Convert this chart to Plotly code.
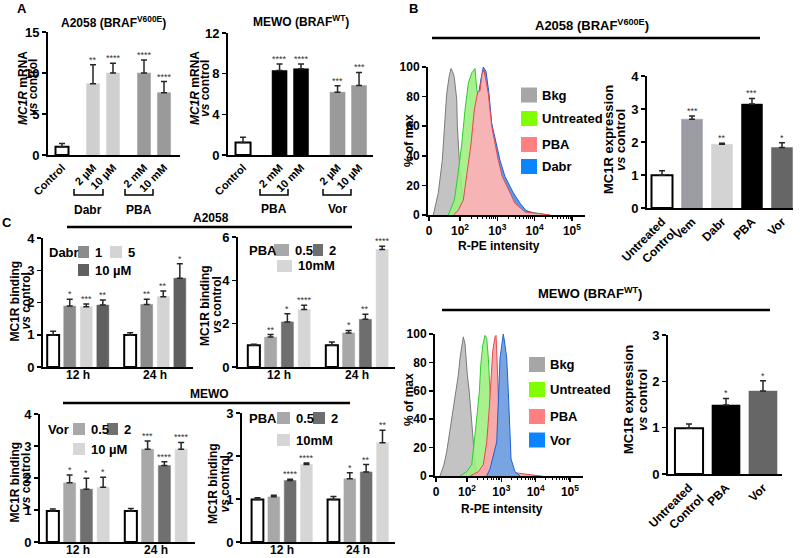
import plotly.graph_objects as go
import numpy as np

W, H = 800, 558
FONT = "Liberation Sans, Arial, sans-serif"

# ------------------------------------------------------------------ DATA
# Panel A - MC1R mRNA vs control
a1_labels = ["Control", "2 µM", "10 µM", "2 mM", "10 mM"]
a1_group = [0, 1, 1, 2, 2]
a1_vals = [1.0, 8.7, 10.0, 10.0, 7.6]
a1_errs = [0.4, 2.3, 1.2, 1.6, 1.35]
a1_stars = ["", "**", "****", "****", "****"]
a1_colors = ["white", "#cfcfcf", "#cfcfcf", "#9a9a9a", "#9a9a9a"]

a2_labels = ["Control", "2 mM", "10 mM", "2 µM", "10 µM"]
a2_group = [0, 1, 1, 2, 2]
a2_vals = [1.22, 8.32, 8.49, 6.18, 6.84]
a2_errs = [0.52, 0.63, 0.46, 0.63, 1.28]
a2_stars = ["", "****", "****", "***", "***"]
a2_colors = ["white", "black", "black", "#9a9a9a", "#9a9a9a"]

# Panel B - MC1R expression
b1_labels = ["Untreated<br>Control", "Vem", "Dabr", "PBA", "Vor"]
b1_vals = [0.99, 2.69, 1.93, 3.15, 1.83]
b1_errs = [0.14, 0.10, 0.03, 0.17, 0.15]
b1_stars = ["", "***", "**", "***", "*"]
b1_colors = ["white", "#9c9ca4", "#d3d3d3", "black", "#666666"]

b2_labels = ["Untreated<br>Control", "PBA", "Vor"]
b2_vals = [0.99, 1.49, 1.79]
b2_errs = [0.09, 0.14, 0.22]
b2_stars = ["", "*", "*"]
b2_colors = ["white", "black", "#666666"]

# Flow histograms (x in decades of R-PE intensity, y in % of max)
h1_bkg_x = [1.284, 1.418, 1.525, 1.579, 1.643, 1.705, 1.759, 1.799, 1.847, 1.912, 1.928, 1.981, 2.062, 2.180, 2.314]
h1_bkg_y = [0, 15, 37, 60, 82, 93, 99, 97, 93, 78, 60, 37, 15, 2, 0]
h1_unt_x = [1.686, 1.847, 1.938, 2.046, 2.134, 2.223, 2.314, 2.402, 2.448, 2.536, 2.670, 2.804, 2.938, 3.126, 3.340, 3.609, 3.877, 4.145, 4.36]
h1_unt_y = [0, 10, 26, 48, 71, 89, 96, 99, 85, 75, 55, 38, 25, 14, 7, 4, 2, 1, 0]
h1_dab_x = [1.866, 2.134, 2.322, 2.456, 2.563, 2.625, 2.697, 2.777, 2.850, 2.965, 3.072, 3.206, 3.429, 3.609, 3.769, 4.011, 4.413]
h1_dab_y = [0, 8, 40, 75, 92, 100, 97, 82, 62, 48, 37, 26, 15, 8, 3, 1, 0]
h1_pba_x = [1.820, 1.946, 2.088, 2.180, 2.295, 2.383, 2.475, 2.536, 2.590, 2.643, 2.724, 2.759, 2.850, 2.938, 3.027, 3.134, 3.340, 3.475, 3.743, 4.011, 4.413]
h1_pba_y = [0, 3, 10, 26, 48, 71, 83, 84, 95, 98, 88, 82, 60, 48, 37, 26, 15, 8, 2, 1, 0]

h2_bkg_x = [1.213, 1.329, 1.408, 1.525, 1.621, 1.679, 1.746, 1.796, 1.845, 1.892, 1.942, 1.971, 2.010, 2.067, 2.108, 2.137, 2.184, 2.213, 2.283, 2.379]
h2_bkg_y = [0, 8, 17, 36, 48, 59, 71, 83, 92, 98, 93, 83, 71, 59, 48, 36, 24, 12, 3, 0]
h2_unt_x = [1.796, 1.990, 2.137, 2.184, 2.262, 2.359, 2.400, 2.458, 2.525, 2.574, 2.621, 2.671, 2.720, 2.787, 2.866, 2.962, 3.5, 4.0, 4.2]
h2_unt_y = [0, 3, 8, 17, 36, 59, 78, 92, 99, 97, 83, 59, 36, 12, 2, 1, 1, 0.5, 0]
h2_pba_x = [2.087, 2.330, 2.475, 2.574, 2.650, 2.700, 2.749, 2.816, 2.845, 2.866, 2.895, 2.942, 3.012, 3.204, 3.5, 3.837, 4.128]
h2_pba_y = [0, 3, 8, 24, 48, 71, 88, 98, 99, 88, 71, 36, 12, 3, 2, 1, 0]
h2_vor_x = [2.574, 2.671, 2.866, 2.913, 2.942, 2.962, 3.012, 3.058, 3.108, 3.157, 3.204, 3.233, 3.283, 3.399, 3.545]
h2_vor_y = [0, 5, 24, 48, 71, 83, 92, 100, 92, 83, 59, 36, 12, 3, 0]

hist_ticktext = ["0", "10<sup>2</sup>", "10<sup>3</sup>", "10<sup>4</sup>", "10<sup>5</sup>"]

# Panel C - MC1R binding vs control (rows: series, cols: 12 h, 24 h)
c_times = ["12 h", "24 h"]
c1_series = ["Control", "1", "5", "10 µM"]
c1_vals = [[0.99, 0.99], [1.89, 1.94], [1.87, 2.18], [1.92, 2.75]]
c1_errs = [[0.12, 0.07], [0.21, 0.16], [0.08, 0.18], [0.16, 0.45]]
c1_stars = [["", ""], ["*", "**"], ["***", "**"], ["**", "*"]]
c1_colors = ["white", "#8c8c8c", "#d4d4d4", "#606060"]

c2_series = ["Control", "0.5", "2", "10mM"]
c2_vals = [[1.0, 1.0], [1.38, 1.57], [2.08, 2.2], [2.65, 5.42]]
c2_errs = [[0.05, 0.15], [0.12, 0.12], [0.38, 0.23], [0.2, 0.15]]
c2_stars = [["", ""], ["**", "*"], ["*", "**"], ["****", "****"]]
c2_colors = ["white", "#a8a8a8", "#6e6e6e", "#d6d6d6"]

c3_series = ["Control", "0.5", "2", "10 µM"]
c3_vals = [[0.97, 0.97], [1.85, 2.9], [1.65, 2.39], [1.71, 2.9]]
c3_errs = [[0.06, 0.08], [0.24, 0.26], [0.34, 0.12], [0.31, 0.21]]
c3_stars = [["", ""], ["*", "***"], ["*", "****"], ["*", "****"]]
c3_colors = ["white", "#a8a8a8", "#707070", "#d6d6d6"]

c4_series = ["Control", "0.5", "2", "10mM"]
c4_vals = [[0.99, 0.99], [1.05, 1.47], [1.43, 1.63], [1.8, 2.31]]
c4_errs = [[0.04, 0.07], [0.04, 0.14], [0.03, 0.17], [0.04, 0.29]]
c4_stars = [["", ""], ["", "*"], ["****", "**"], ["****", "**"]]
c4_colors = ["white", "#a8a8a8", "#6e6e6e", "#d6d6d6"]

# ------------------------------------------------------------------ HELPERS
def px(x):
    return x / W


def py(y):
    return 1 - y / H


fig = go.Figure()
annotations = []
shapes = []
layout_axes = {}


def txt(x, y, text, size=12, bold=True, angle=0, xanchor="center", yanchor="middle", color="black"):
    annotations.append(dict(x=px(x), y=py(y), xref="paper", yref="paper", text=text, showarrow=False,
                            textangle=angle, xanchor=xanchor, yanchor=yanchor,
                            font=dict(family=FONT, size=size, color=color,
                                      weight="bold" if bold else "normal")))


def vtitle(x1, x2, y, line1, line2, size=12):
    txt(x1, y, line1, size, angle=-90)
    txt(x2, y, line2, size, angle=-90)


def hline(x0, x1, y, w=2.0, color="black"):
    shapes.append(dict(type="line", xref="paper", yref="paper", x0=px(x0), x1=px(x1), y0=py(y), y1=py(y),
                       line=dict(color=color, width=w)))


def rect(x0, x1, y0, y1, color):
    shapes.append(dict(type="rect", xref="paper", yref="paper", x0=px(x0), x1=px(x1), y0=py(y1), y1=py(y0),
                       fillcolor=color, line=dict(width=0)))


def bracket(x0, x1, ytop, ybot):
    shapes.append(dict(type="path", xref="paper", yref="paper",
                       path=f"M {px(x0)},{py(ytop)} L {px(x0)},{py(ybot)} L {px(x1)},{py(ybot)} L {px(x1)},{py(ytop)}",
                       line=dict(color="black", width=1.5)))


def axes(i, xdom, ydom, xrange, yrange, ydtick, xtickvals=None, xticktext=None, xtickangle=0,
         xtickfont=12, ytickfont=12, xticks="", minor=None, xstandoff=0):
    xa = dict(domain=[px(xdom[0]), px(xdom[1])], range=xrange, anchor=f"y{i}", showline=True,
              linecolor="black", linewidth=2, showgrid=False, zeroline=False, ticks=xticks,
              ticklen=4, tickwidth=1.5, tickcolor="black", automargin=False,
              ticklabelstandoff=xstandoff,
              tickfont=dict(family=FONT, size=xtickfont, color="black", weight="bold"),
              tickangle=xtickangle, fixedrange=True)
    if xtickvals is not None:
        xa.update(tickmode="array", tickvals=xtickvals, ticktext=xticktext)
    if minor is not None:
        xa["minor"] = minor
    ya = dict(domain=[py(ydom[0]), py(ydom[1])], range=yrange, anchor=f"x{i}", showline=True,
              linecolor="black", linewidth=2, showgrid=False, zeroline=False, ticks="outside",
              ticklen=4, tickwidth=1.5, tickcolor="black", dtick=ydtick, tick0=0, automargin=False,
              tickfont=dict(family=FONT, size=ytickfont, color="black", weight="bold"), fixedrange=True)
    layout_axes[f"xaxis{i}"] = xa
    layout_axes[f"yaxis{i}"] = ya


def bars(i, xs, vals, errs, colors, stars, width, star_size=9):
    line_cols = ["black" if c == "white" else c for c in colors]
    line_w = [2 if c == "white" else 0.5 for c in colors]
    fig.add_trace(go.Bar(x=xs, y=vals, width=width, xaxis=f"x{i}", yaxis=f"y{i}",
                         marker=dict(color=colors, line=dict(color=line_cols, width=line_w)),
                         error_y=dict(type="data", array=errs, arrayminus=[0] * len(errs), symmetric=False,
                                      color="#262626", thickness=1.5, width=3),
                         showlegend=False, hoverinfo="skip"))
    for x, v, e, s in zip(xs, vals, errs, stars):
        if s:
            annotations.append(dict(x=x, y=v + e, xref=f"x{i}", yref=f"y{i}", text=s, showarrow=False,
                                    yanchor="bottom", yshift=-2, font=dict(family=FONT, size=star_size, color="#333")))


def grouped_positions(groups, gap):
    return [k + g * gap for k, g in enumerate(groups)]


def c_panel(i, series_vals, series_errs, series_stars, colors, slot=0.215, width=0.155):
    n = len(series_vals)
    for j in range(n):
        xs = [t + (j - (n - 1) / 2) * slot for t in range(len(c_times))]
        bars(i, xs, series_vals[j], series_errs[j], [colors[j]] * len(xs), series_stars[j], width)


def hist(i, x, y, line, fill):
    fig.add_trace(go.Scatter(x=x, y=y, mode="lines", fill="tozeroy", fillcolor=fill,
                             line=dict(color=line, width=1), xaxis=f"x{i}", yaxis=f"y{i}",
                             showlegend=False, hoverinfo="skip"))


# ------------------------------------------------------------------ PANEL A
a1_x = grouped_positions(a1_group, 0.55)
axes(1, (48, 180), (155, 32), [-0.7, 5.9], [0, 15], 5, a1_x, a1_labels, -45, xtickfont=11, ytickfont=13)
bars(1, a1_x, a1_vals, a1_errs, a1_colors, a1_stars, 0.65)

a2_x = grouped_positions(a2_group, 0.7)
axes(2, (228, 373), (155, 33), [-0.7, 6.05], [0, 12], 4, a2_x, a2_labels, -45, xtickfont=11, ytickfont=13)
bars(2, a2_x, a2_vals, a2_errs, a2_colors, a2_stars, 0.7)

txt(22, 9, "A", 13)
txt(114, 22, "A2058 (BRAF<sup>V600E</sup>)", 12)
txt(301, 21, "MEWO (BRAF<sup>WT</sup>)", 12)
vtitle(23, 33, 88, "<i>MC1R</i> mRNA", "<i>vs</i> control")
vtitle(195, 205, 88, "<i>MC1R</i> mRNA", "<i>vs</i> control")
bracket(74, 103, 189, 195)
bracket(125, 153, 189, 195)
txt(88, 210, "Dabr", 12)
txt(139, 210, "PBA", 12)
bracket(260, 288, 189, 195)
bracket(323, 351, 189, 195)
txt(274, 209, "PBA", 12)
txt(337, 209, "Vor", 12)

# ------------------------------------------------------------------ PANEL B
txt(413, 8, "B", 13)
txt(592, 25, "A2058 (BRAF<sup>V600E</sup>)", 13)
hline(432, 760, 38, 2.5)
txt(590, 293, "MEWO (BRAF<sup>WT</sup>)", 13)
hline(442, 770, 310, 2.5)

minor_ticks = dict(ticks="outside", ticklen=2, tickwidth=1, tickcolor="black", tickmode="array",
                   tickvals=[float(v) for v in (np.log10(np.arange(2, 10))[None, :] + np.arange(2, 5)[:, None]).ravel()])

axes(3, (428, 585), (215, 67), [1.142, 5.351], [0, 100], 20, [1.169, 2, 3, 4, 5], hist_ticktext, 0,
     xtickfont=12, ytickfont=12, xticks="outside", minor=minor_ticks)
hist(3, h1_bkg_x, h1_bkg_y, "#7a7a7a", "rgba(185,185,185,0.85)")
hist(3, h1_unt_x, h1_unt_y, "#2ecc2e", "rgba(160,240,130,0.9)")
hist(3, h1_dab_x, h1_dab_y, "#1f5fd6", "rgba(80,150,235,0.95)")
hist(3, h1_pba_x, h1_pba_y, "#e8474f", "rgba(247,180,180,1)")
txt(409, 141, "% of max", 12, angle=-90)
txt(499, 246, "R-PE intensity", 12)

axes(4, (435, 583), (476, 334), [1.067, 5.38], [0, 100], 20, [1.096, 2, 3, 4, 5], hist_ticktext, 0,
     xtickfont=12, ytickfont=12, xticks="outside", minor=minor_ticks)
hist(4, h2_bkg_x, h2_bkg_y, "#7a7a7a", "rgba(185,185,185,0.85)")
hist(4, h2_unt_x, h2_unt_y, "#2ecc2e", "rgba(160,240,130,0.9)")
hist(4, h2_pba_x, h2_pba_y, "#e8474f", "rgba(247,170,170,1)")
hist(4, h2_vor_x, h2_vor_y, "#1f5fd6", "rgba(120,165,225,1)")
txt(409, 400, "% of max", 12, angle=-90)
txt(502, 509, "R-PE intensity", 12)

# histogram legends
leg_cols = ["#a6a6a6", "#80ff00", "#ff8080", "#0a84ff"]
for lab, col, yc in zip(["Bkg", "Untreated", "PBA", "Dabr"], leg_cols, [95, 118.5, 144.5, 166.5]):
    rect(521, 537, yc - 7.5, yc + 7.5, col)
    txt(540, yc, lab, 13, xanchor="left")
for lab, col, yc in zip(["Bkg", "Untreated", "PBA", "Vor"], leg_cols, [364.5, 389.5, 416.5, 440]):
    rect(529, 545, yc - 7.5, yc + 7.5, col)
    txt(548, yc, lab, 13, xanchor="left")

b1_x = list(range(len(b1_labels)))
axes(5, (647, 793), (208, 76), [-0.5, 4.367], [0, 4], 1, b1_x, b1_labels, -45, xtickfont=12, ytickfont=13)
bars(5, b1_x, b1_vals, b1_errs, b1_colors, b1_stars, 0.7)
vtitle(609, 621, 140, "MC1R expression", "<i>vs</i> control", 13)

b2_x = list(range(len(b2_labels)))
axes(6, (668, 782), (474, 335), [-0.568, 2.514], [0, 3], 1, b2_x, b2_labels, -45, xtickfont=12, ytickfont=13)
bars(6, b2_x, b2_vals, b2_errs, b2_colors, b2_stars, 0.76)
vtitle(628, 642, 400, "MC1R expression", "<i>vs</i> control", 13)

# ------------------------------------------------------------------ PANEL C
txt(7, 222, "C", 13)
txt(211, 218, "A2058", 12)
hline(67, 352, 227, 2.5)
txt(209, 394, "MEWO", 12)
hline(63, 350, 403, 2.5)

tv = list(range(len(c_times)))
axes(7, (43, 193), (367, 238), [-0.4545, 1.4935], [0, 4], 1, tv, c_times, 0, xtickfont=12, ytickfont=13, xstandoff=-4)
c_panel(7, c1_vals, c1_errs, c1_stars, c1_colors)
vtitle(14.5, 25.5, 301, "MC1R binding", "<i>vs</i> control")

axes(8, (238, 395), (367, 237), [-0.5256, 1.487], [0, 6], 2, tv, c_times, 0, xtickfont=12, ytickfont=13, xstandoff=-4)
c_panel(8, c2_vals, c2_errs, c2_stars, c2_colors)
vtitle(205, 216.5, 305, "MC1R binding", "<i>vs</i> control")

axes(9, (40, 195), (542, 414), [-0.487, 1.5], [0, 4], 1, tv, c_times, 0, xtickfont=12, ytickfont=13, xstandoff=-4)
c_panel(9, c3_vals, c3_errs, c3_stars, c3_colors)
vtitle(14.5, 26, 482, "MC1R binding", "<i>vs</i> control")

axes(10, (242, 395), (542, 413), [-0.526, 1.487], [0, 3], 1, tv, c_times, 0, xtickfont=12, ytickfont=13, xstandoff=-4)
c_panel(10, c4_vals, c4_errs, c4_stars, c4_colors)
vtitle(213, 224.5, 484, "MC1R binding", "<i>vs</i> control")


# panel C legends
def c_legend(title, tx, ty, items):
    txt(tx, ty, title, 13, xanchor="left")
    for (x0, x1, y0, y1, col, lab) in items:
        rect(x0, x1, y0, y1, col)
        txt(x1 + 4, (y0 + y1) / 2, lab, 13, xanchor="left")


c_legend("Dabr", 47, 252, [(78, 89, 246, 258, c1_colors[1], c1_series[1]),
                           (110, 122, 246, 258, c1_colors[2], c1_series[2]),
                           (78, 89, 264, 276, c1_colors[3], c1_series[3])])
c_legend("PBA", 247, 250, [(274, 289, 244, 256, c2_colors[1], c2_series[1]),
                           (313, 323, 244, 256, c2_colors[2], c2_series[2]),
                           (277, 292, 260, 272, c2_colors[3], c2_series[3])])
c_legend("Vor", 46, 429, [(73, 85, 423, 435, c3_colors[1], c3_series[1]),
                          (107, 118, 423, 435, c3_colors[2], c3_series[2]),
                          (73, 85, 443, 455, c3_colors[3], c3_series[3])])
c_legend("PBA", 247, 418, [(277, 290, 412, 424, c4_colors[1], c4_series[1]),
                           (313, 325, 412, 424, c4_colors[2], c4_series[2]),
                           (277, 290, 434, 446, c4_colors[3], c4_series[3])])

fig.update_layout(width=W, height=H, margin=dict(l=0, r=0, t=0, b=0, autoexpand=False), paper_bgcolor="white",
                  plot_bgcolor="white", barmode="overlay", showlegend=False,
                  annotations=annotations, shapes=shapes, font=dict(family=FONT), **layout_axes)
fig.write_html("out.html", config={"displayModeBar": False, "staticPlot": True},
               post_script="document.body.style.margin='0';document.body.style.overflow='hidden';")
